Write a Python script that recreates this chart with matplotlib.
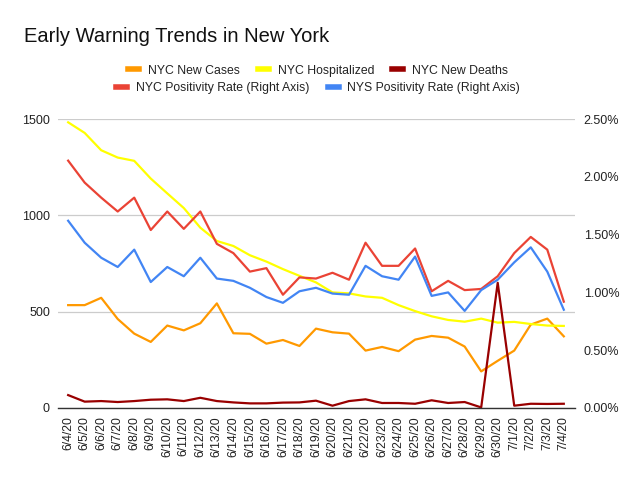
import matplotlib
matplotlib.use("Agg")
import matplotlib.pyplot as plt
from matplotlib.ticker import PercentFormatter
from matplotlib.lines import Line2D

plt.rcParams['font.family'] = ['Liberation Sans', 'DejaVu Sans']

dates = ['6/4/20', '6/5/20', '6/6/20', '6/7/20', '6/8/20', '6/9/20', '6/10/20',
         '6/11/20', '6/12/20', '6/13/20', '6/14/20', '6/15/20', '6/16/20',
         '6/17/20', '6/18/20', '6/19/20', '6/20/20', '6/21/20', '6/22/20',
         '6/23/20', '6/24/20', '6/25/20', '6/26/20', '6/27/20', '6/28/20',
         '6/29/20', '6/30/20', '7/1/20', '7/2/20', '7/3/20', '7/4/20']

new_cases = [534, 534, 572, 462, 386, 343, 428, 403, 440, 543, 388, 385, 334,
             353, 322, 412, 393, 386, 298, 317, 295, 355, 374, 365, 319, 190,
             245, 298, 433, 464, 372]
hospitalized = [1483, 1428, 1338, 1300, 1283, 1191, 1114, 1038, 936, 867, 841,
                793, 760, 721, 686, 652, 600, 595, 579, 572, 534, 503, 476, 457,
                448, 464, 443, 447, 436, 428, 426]
new_deaths = [67, 33, 36, 31, 36, 43, 45, 36, 53, 36, 29, 24, 24, 28, 29, 38,
              12, 36, 45, 26, 26, 22, 40, 26, 31, 3, 650, 12, 22, 21, 22]
# positivity rates in percent
nyc_pos = [2.14, 1.95, 1.82, 1.70, 1.82, 1.54, 1.70, 1.55, 1.70, 1.42, 1.34,
           1.18, 1.21, 0.98, 1.13, 1.12, 1.17, 1.11, 1.43, 1.23, 1.23, 1.38,
           1.01, 1.10, 1.02, 1.03, 1.14, 1.34, 1.48, 1.37, 0.92]
nys_pos = [1.62, 1.43, 1.30, 1.22, 1.37, 1.09, 1.22, 1.14, 1.30, 1.12, 1.10,
           1.04, 0.96, 0.91, 1.01, 1.04, 0.99, 0.98, 1.23, 1.14, 1.11, 1.31,
           0.97, 1.00, 0.84, 1.02, 1.11, 1.26, 1.39, 1.18, 0.85]

c_cases = '#FF9900'
c_hosp = '#FFFF00'
c_deaths = '#990000'
c_nyc = '#EA4335'
c_nys = '#4285F4'

fig = plt.figure(figsize=(6.4, 4.8), dpi=100)
ax = fig.add_axes([0.091, 0.15, 0.808, 0.602])
x = list(range(len(dates)))

lw = 1.6
ax.plot(x, new_cases, color=c_cases, lw=lw)
ax.plot(x, hospitalized, color=c_hosp, lw=lw)
ax.plot(x, new_deaths, color=c_deaths, lw=lw)
ax.set_ylim(0, 1500)
ax.set_yticks([0, 500, 1000, 1500])
ax.set_xlim(-0.6, 30.7)
ax.set_xticks(x)
ax.set_xticklabels(dates, rotation=90, color='#222222')
ax.tick_params(axis='both', length=0, labelsize=9, colors='#222222')
ax.tick_params(axis='x', labelsize=8.8, pad=6)
ax.tick_params(axis='y', pad=6)
ax.grid(axis='y', color='#cccccc', lw=0.9)
ax.set_axisbelow(True)
for s in ['top', 'left', 'right']:
    ax.spines[s].set_visible(False)
ax.spines['bottom'].set_color('#333333')
ax.spines['bottom'].set_linewidth(1.0)
ax.spines['bottom'].set_zorder(5)

ax2 = ax.twinx()
ax2.plot(x, nyc_pos, color=c_nyc, lw=lw)
ax2.plot(x, nys_pos, color=c_nys, lw=lw)
ax2.set_ylim(0, 2.5)
ax2.set_yticks([0, 0.5, 1.0, 1.5, 2.0, 2.5])
ax2.yaxis.set_major_formatter(PercentFormatter(xmax=100, decimals=2))
ax2.tick_params(axis='y', length=0, labelsize=9, colors='#222222', pad=6)
for s in ax2.spines.values():
    s.set_visible(False)

fig.text(0.038, 0.923, 'Early Warning Trends in New York', fontsize=14.5,
         va='center', ha='left', color='#111111')

def handle(c):
    return Line2D([], [], color=c, lw=4)

leg_kw = dict(frameon=False, fontsize=8.8, handlelength=0.9, handletextpad=0.7,
              columnspacing=1.5, borderpad=0, labelcolor='#222222')
leg1 = fig.legend([handle(c_cases), handle(c_hosp), handle(c_deaths)],
                  ['NYC New Cases', 'NYC Hospitalized', 'NYC New Deaths'],
                  loc='center', bbox_to_anchor=(0.497, 0.853), ncol=3, **leg_kw)
leg2 = fig.legend([handle(c_nyc), handle(c_nys)],
                  ['NYC Positivity Rate (Right Axis)', 'NYS Positivity Rate (Right Axis)'],
                  loc='center', bbox_to_anchor=(0.497, 0.816), ncol=2, **leg_kw)

fig.savefig('out.png', dpi=100)
